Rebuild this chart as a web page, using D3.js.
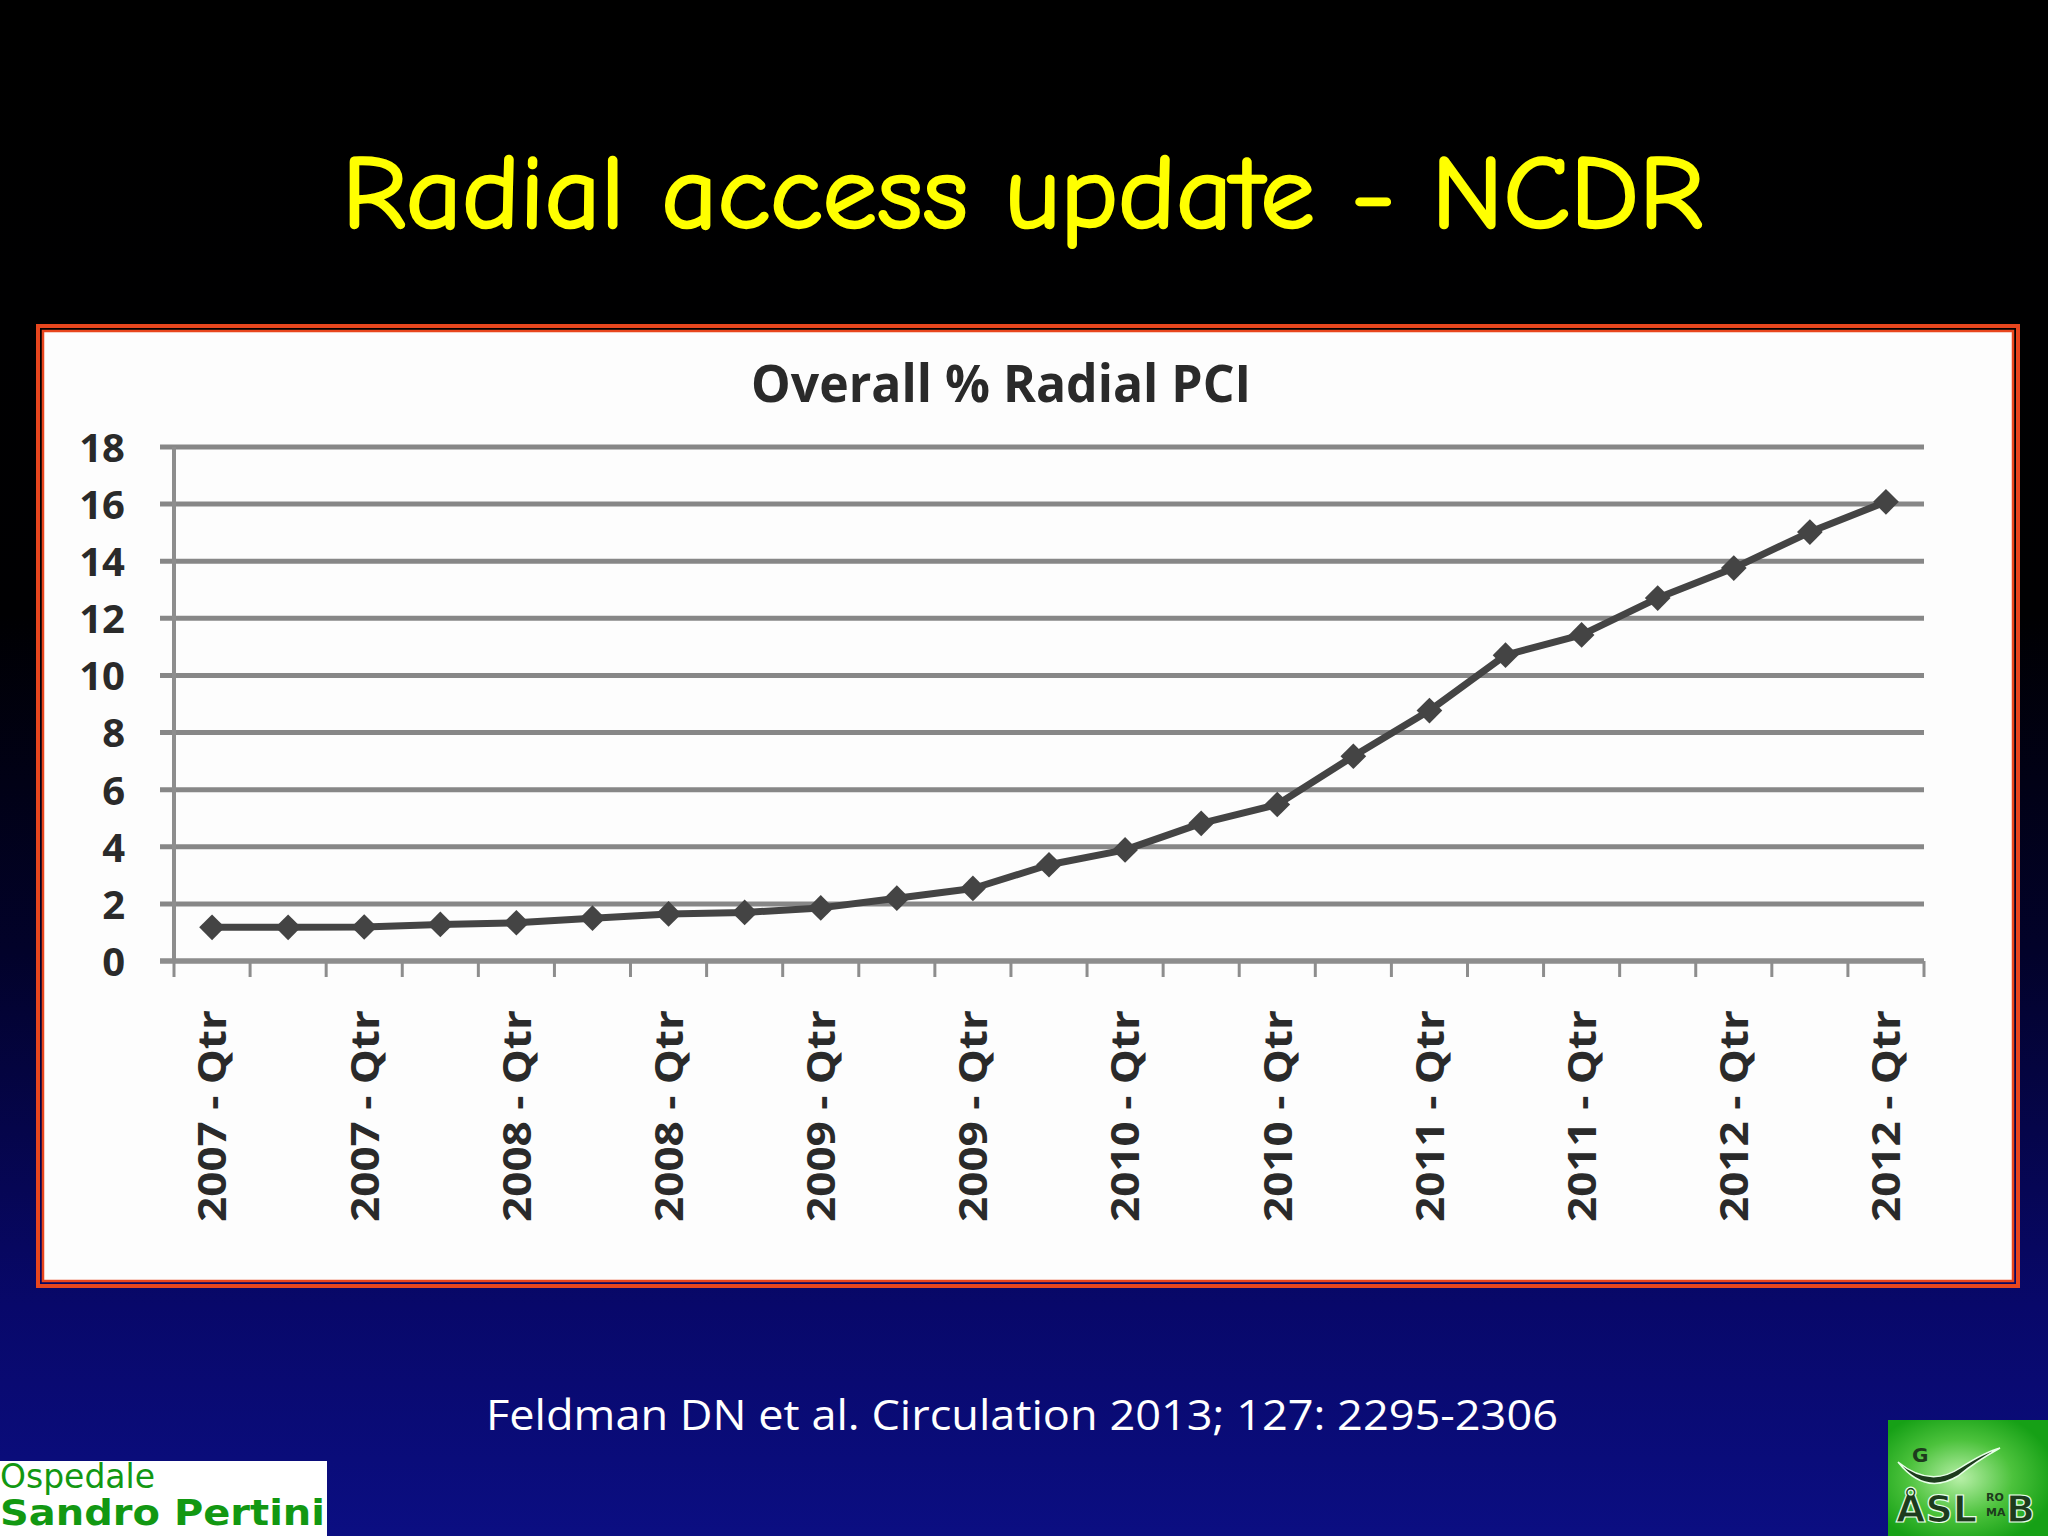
<!DOCTYPE html>
<html>
<head>
<meta charset="utf-8">
<script src="https://cdn.jsdelivr.net/npm/d3@7"></script>
<style>
  html, body { margin: 0; padding: 0; background: #000; }
  svg { display: block; }
</style>
</head>
<body>
<svg id="chart" width="2048" height="1536"></svg>
<script>
// ---------- data ----------
const quarters = [
  "2007 Q1","2007 Q2","2007 Q3","2007 Q4",
  "2008 Q1","2008 Q2","2008 Q3","2008 Q4",
  "2009 Q1","2009 Q2","2009 Q3","2009 Q4",
  "2010 Q1","2010 Q2","2010 Q3","2010 Q4",
  "2011 Q1","2011 Q2","2011 Q3","2011 Q4",
  "2012 Q1","2012 Q2","2012 Q3"
];
const radialPct = [
  1.18, 1.18, 1.19, 1.28,
  1.34, 1.50, 1.65, 1.70,
  1.86, 2.20, 2.54, 3.37,
  3.89, 4.82, 5.48, 7.17,
  8.77, 10.71, 11.42, 12.71,
  13.76, 15.02, 16.08
];
const yTickValues = [0, 2, 4, 6, 8, 10, 12, 14, 16, 18];
const labeledQuarters = quarters.filter((d, i) => i % 2 === 0);
const slideTitle = "Radial access update - NCDR";
const chartTitle = "Overall % Radial PCI";
const citation = "Feldman DN et al. Circulation 2013; 127: 2295-2306";

// ---------- setup ----------
const svg = d3.select("#chart");
const defs = svg.append("defs");

const bg = defs.append("linearGradient").attr("id", "bg")
  .attr("x1", 0).attr("y1", 0).attr("x2", 0).attr("y2", 1);
bg.append("stop").attr("offset", "0%").attr("stop-color", "#000000");
bg.append("stop").attr("offset", "40%").attr("stop-color", "#000002");
bg.append("stop").attr("offset", "62%").attr("stop-color", "#02022a");
bg.append("stop").attr("offset", "85%").attr("stop-color", "#08086a");
bg.append("stop").attr("offset", "100%").attr("stop-color", "#0b0e82");

const green = defs.append("radialGradient").attr("id", "greenGlow")
  .attr("cx", "45%").attr("cy", "50%").attr("r", "60%");
green.append("stop").attr("offset", "0%").attr("stop-color", "#b8f0a8");
green.append("stop").attr("offset", "55%").attr("stop-color", "#4cc23c");
green.append("stop").attr("offset", "100%").attr("stop-color", "#16a016");

svg.append("rect").attr("width", 2048).attr("height", 1536).attr("fill", "url(#bg)");

// slide title
svg.append("text")
  .attr("x", 342).attr("y", 227)
  .attr("textLength", 1362).attr("lengthAdjust", "spacingAndGlyphs")
  .attr("font-family", "'Comic Sans MS', 'Comic Neue', 'DejaVu Sans', sans-serif")
  .attr("font-size", 104)
  .attr("fill", "#ffff00")
  .attr("stroke", "#ffff00").attr("stroke-width", 2.5)
  .text(slideTitle);

// chart frame (double orange-red border)
svg.append("rect").attr("x", 38).attr("y", 326).attr("width", 1980).attr("height", 960)
  .attr("fill", "none").attr("stroke", "#e8461e").attr("stroke-width", 4);
svg.append("rect").attr("x", 43).attr("y", 331).attr("width", 1970).attr("height", 950)
  .attr("fill", "#fdfdfd").attr("stroke", "#e8461e").attr("stroke-width", 2.5);

// ---------- scales ----------
const x = d3.scaleBand().domain(quarters).range([174, 1924]).padding(0);
const y = d3.scaleLinear().domain([0, 18]).range([961, 447]);
const cx = d => x(d) + x.bandwidth() / 2;

const plot = svg.append("g");

// gridlines
plot.append("g").selectAll("line").data(yTickValues).join("line")
  .attr("x1", 160).attr("x2", x.range()[1])
  .attr("y1", d => y(d)).attr("y2", d => y(d))
  .attr("stroke", "#878787").attr("stroke-width", 5);

// y axis line
plot.append("line")
  .attr("x1", x.range()[0]).attr("x2", x.range()[0])
  .attr("y1", y(0)).attr("y2", y(18))
  .attr("stroke", "#8d8d8d").attr("stroke-width", 4);

// y axis labels via d3 axis
const yAxis = plot.append("g")
  .attr("transform", "translate(125,0)")
  .call(d3.axisLeft(y).tickValues(yTickValues).tickSize(0).tickPadding(0));
yAxis.select(".domain").remove();
yAxis.selectAll("text")
  .attr("font-family", "'Open Sans', 'DejaVu Sans', sans-serif")
  .attr("font-weight", "bold")
  .attr("font-size", 40)
  .attr("fill", "#2a2a2a")
  .attr("dy", "0.36em");

// x axis ticks at band boundaries
const boundaries = quarters.map(q => x(q)).concat([x.range()[1]]);
plot.append("g").selectAll("line").data(boundaries).join("line")
  .attr("x1", d => d).attr("x2", d => d)
  .attr("y1", y(0)).attr("y2", y(0) + 16)
  .attr("stroke", "#8d8d8d").attr("stroke-width", 3);

// x labels
const xAxis = plot.append("g")
  .attr("transform", `translate(0,${y(0)})`)
  .call(d3.axisBottom(x).tickValues(labeledQuarters).tickSize(0)
    .tickFormat(d => d.slice(0, 4) + " - Qtr"));
xAxis.select(".domain").remove();
xAxis.selectAll("text")
  .attr("font-family", "'Open Sans', 'DejaVu Sans', sans-serif")
  .attr("font-weight", "bold")
  .attr("font-size", 40)
  .attr("fill", "#2a2a2a")
  .attr("text-anchor", "end")
  .attr("transform", "rotate(-90)")
  .attr("x", -49).attr("y", 0).attr("dy", "0.36em")
  .attr("textLength", 212).attr("lengthAdjust", "spacingAndGlyphs");

// x axis line on top of ticks
plot.append("line")
  .attr("x1", 160).attr("x2", x.range()[1])
  .attr("y1", y(0)).attr("y2", y(0))
  .attr("stroke", "#8d8d8d").attr("stroke-width", 5);

// series line
const series = quarters.map((q, i) => ({ q, v: radialPct[i] }));
plot.append("path").datum(series)
  .attr("fill", "none").attr("stroke", "#444444").attr("stroke-width", 7)
  .attr("stroke-linejoin", "round")
  .attr("d", d3.line().x(d => cx(d.q)).y(d => y(d.v)));

// diamond markers
const sym = d3.symbol().type(d3.symbolSquare).size(330);
plot.append("g").selectAll("path").data(series).join("path")
  .attr("d", sym)
  .attr("transform", d => `translate(${cx(d.q)},${y(d.v)}) rotate(45)`)
  .attr("fill", "#444444");

// chart title
svg.append("text")
  .attr("x", 751).attr("y", 402)
  .attr("textLength", 500).attr("lengthAdjust", "spacingAndGlyphs")
  .attr("font-family", "'Open Sans', 'DejaVu Sans', sans-serif")
  .attr("font-weight", "bold").attr("font-size", 52)
  .attr("fill", "#2a2a2a")
  .text(chartTitle);

// citation
svg.append("text")
  .attr("x", 486).attr("y", 1430)
  .attr("textLength", 1072).attr("lengthAdjust", "spacingAndGlyphs")
  .attr("font-family", "'Open Sans', 'DejaVu Sans', sans-serif")
  .attr("font-size", 42).attr("fill", "#ffffff")
  .text(citation);

// bottom-left logo
svg.append("rect").attr("x", 0).attr("y", 1461).attr("width", 327).attr("height", 75).attr("fill", "#ffffff");
svg.append("text").attr("x", 0).attr("y", 1488)
  .attr("font-family", "'DejaVu Sans', sans-serif").attr("font-size", 33)
  .attr("fill", "#129812").text("Ospedale");
svg.append("text").attr("x", 0).attr("y", 1525)
  .attr("textLength", 325).attr("lengthAdjust", "spacingAndGlyphs")
  .attr("font-family", "'DejaVu Sans', sans-serif").attr("font-weight", "bold").attr("font-size", 35)
  .attr("fill", "#129812").text("Sandro Pertini");

// bottom-right logo
svg.append("rect").attr("x", 1888).attr("y", 1420).attr("width", 160).attr("height", 116).attr("fill", "url(#greenGlow)");
svg.append("path")
  .attr("d", "M1898,1462 Q1930,1488 1960,1468 Q1985,1452 2000,1448 Q1975,1462 1958,1476 Q1925,1496 1898,1462 Z")
  .attr("fill", "#1d3b1d").attr("stroke", "#e8ffe8").attr("stroke-width", 1.5);
svg.append("text").attr("x", 1912).attr("y", 1462)
  .attr("font-family", "'DejaVu Sans', sans-serif").attr("font-weight", "bold").attr("font-size", 20)
  .attr("fill", "#1d3b1d").text("G");
svg.append("text").attr("x", 1896).attr("y", 1522)
  .attr("font-family", "'DejaVu Sans', sans-serif").attr("font-weight", "bold").attr("font-size", 38)
  .attr("fill", "#1d3b1d").attr("stroke", "#e8ffe8").attr("stroke-width", 1.2)
  .text("ÅSL");
svg.append("text").attr("x", 1986).attr("y", 1501)
  .attr("font-family", "'DejaVu Sans', sans-serif").attr("font-weight", "bold").attr("font-size", 11)
  .attr("fill", "#1d3b1d").text("RO");
svg.append("text").attr("x", 1986).attr("y", 1516)
  .attr("font-family", "'DejaVu Sans', sans-serif").attr("font-weight", "bold").attr("font-size", 11)
  .attr("fill", "#1d3b1d").text("MA");
svg.append("text").attr("x", 2006).attr("y", 1522)
  .attr("font-family", "'DejaVu Sans', sans-serif").attr("font-weight", "bold").attr("font-size", 38)
  .attr("fill", "#1d3b1d").attr("stroke", "#e8ffe8").attr("stroke-width", 1.2)
  .text("B");
</script>
</body>
</html>
